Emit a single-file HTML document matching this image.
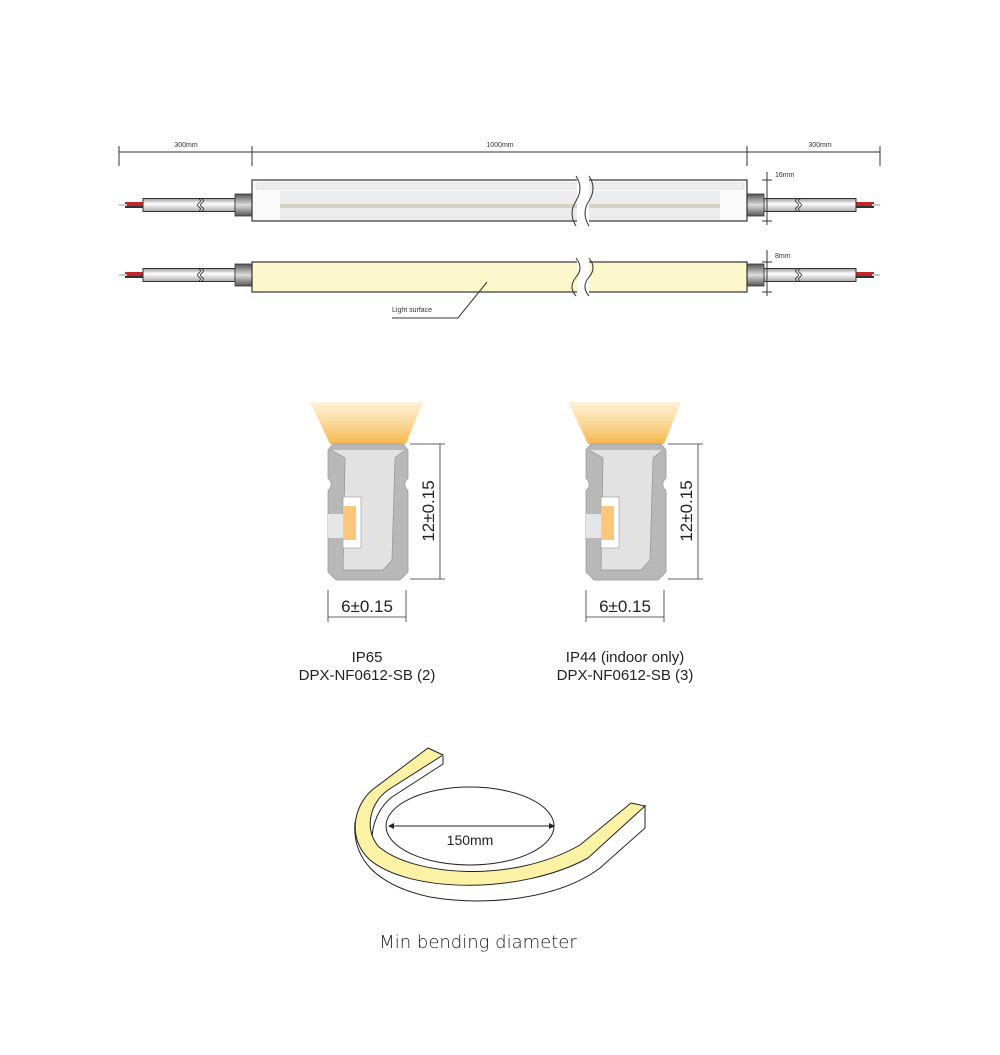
<!DOCTYPE html>
<html><head><meta charset="utf-8"><style>body{margin:0;background:#fff}svg{display:block}</style></head><body>
<svg width="1000" height="1055" viewBox="0 0 1000 1055" xmlns="http://www.w3.org/2000/svg" font-family="Liberation Sans, sans-serif">
<defs>
<linearGradient id="cab" x1="0" y1="0" x2="0" y2="1"><stop offset="0" stop-color="#999"/><stop offset="0.4" stop-color="#fff"/><stop offset="1" stop-color="#aaa"/></linearGradient>
<linearGradient id="con" x1="0" y1="0" x2="0" y2="1"><stop offset="0" stop-color="#555"/><stop offset="0.5" stop-color="#ddd"/><stop offset="1" stop-color="#555"/></linearGradient>
<linearGradient id="glow" x1="0" y1="0" x2="0" y2="1"><stop offset="0" stop-color="#fde7b8" stop-opacity="0.6"/><stop offset="1" stop-color="#f7b64a"/></linearGradient>
<g id="lcab">
<rect x="125" y="-3" width="20" height="6" fill="#c0262a"/><rect x="125" y="1" width="20" height="2" fill="#333"/>
<rect x="119" y="-1" width="8" height="2" fill="#ccc"/>
<rect x="143" y="-6.5" width="92" height="13" fill="url(#cab)" stroke="#333" stroke-width="1"/>
<path d="M199 -6 q3 2 0 4 q-3 2 0 4 q3 2 0 4 M202 -6 q3 2 0 4 q-3 2 0 4 q3 2 0 4" stroke="#333" fill="none" stroke-width="0.8"/>
<rect x="235" y="-11" width="17" height="22" fill="url(#con)" stroke="#333" stroke-width="0.8"/>
</g>
</defs>
<g stroke="#333" stroke-width="1" fill="none">
<line x1="119" y1="152" x2="880" y2="152"/>
<line x1="119" y1="146" x2="119" y2="166"/><line x1="252" y1="146" x2="252" y2="166"/><line x1="747" y1="146" x2="747" y2="166"/><line x1="880" y1="146" x2="880" y2="166"/>
</g>
<g font-size="7" fill="#333" text-anchor="middle"><text x="186" y="147">300mm</text><text x="500" y="147">1000mm</text><text x="820" y="147">300mm</text></g>
<use href="#lcab" transform="translate(0,205)"/>
<use href="#lcab" transform="translate(999,205) scale(-1,1)"/>
<rect x="252" y="180" width="495" height="41" fill="#fafafa" stroke="#333" stroke-width="1.2"/>
<rect x="256" y="183" width="488" height="6" fill="#eee" stroke="#ccc" stroke-width="0.5"/>
<rect x="280" y="191" width="440" height="29" fill="#ececec"/>
<rect x="280" y="204" width="440" height="4" fill="#d6d2c8"/>
<use href="#lcab" transform="translate(0,275)"/>
<use href="#lcab" transform="translate(999,275) scale(-1,1)"/>
<rect x="252" y="262" width="495" height="30" fill="#fdf8cc" stroke="#333" stroke-width="1.2"/>
<rect x="577" y="176" width="12" height="50" fill="#fff"/><rect x="577" y="258" width="12" height="38" fill="#fff"/>
<g stroke="#333" fill="none" stroke-width="1">
<path d="M576 176 q8 12 0 25 q-8 12 0 25 M589 176 q8 12 0 25 q-8 12 0 25"/>
<path d="M576 258 q8 10 0 19 q-8 10 0 19 M589 258 q8 10 0 19 q-8 10 0 19"/>
<line x1="767" y1="172" x2="767" y2="225"/><line x1="762" y1="180" x2="772" y2="180"/><line x1="762" y1="221" x2="772" y2="221"/>
<line x1="767" y1="250" x2="767" y2="296"/><line x1="762" y1="262" x2="772" y2="262"/><line x1="762" y1="292" x2="772" y2="292"/>
<path d="M392 318 H458 L487 282"/>
</g>
<g font-size="7" fill="#333"><text x="775" y="177">16mm</text><text x="775" y="258">8mm</text><text x="392" y="312">Light surface</text></g>
<g id="sec">
<path d="M310 402 H423 L406 444 H330 Z" fill="url(#glow)"/>
<path d="M333 444 H403 L408 450 V478 L405 482 V487 L408 491 V572 L400 580 H336 L328 572 V510 L328 491 L331 487 V482 L328 478 V450 Z" fill="#b8b8b8" stroke="#999" stroke-width="0.8"/>
<path d="M331 450 L345 458 L343 570 L383 570 L392 560 L395 458 L405 450" fill="#e2e2e2" stroke="#999" stroke-width="0.8"/>
<rect x="343" y="497" width="18" height="51" fill="#fff" stroke="#999" stroke-width="0.6"/>
<rect x="343" y="506" width="13" height="34" fill="#fcc77a"/>
<rect x="328" y="514" width="15" height="24" fill="#e6e6e6"/>
<g stroke="#333" stroke-width="0.8" fill="none">
<line x1="410" y1="444" x2="445" y2="444"/><line x1="410" y1="579" x2="445" y2="579"/><line x1="440" y1="444" x2="440" y2="579"/>
<line x1="328" y1="590" x2="328" y2="622"/><line x1="406" y1="590" x2="406" y2="622"/><line x1="328" y1="617" x2="406" y2="617"/>
</g>
<text x="367" y="612" font-size="17" text-anchor="middle" fill="#222">6±0.15</text>
<text transform="translate(434,511) rotate(-90)" font-size="17" text-anchor="middle" fill="#222">12±0.15</text>
</g>
<use href="#sec" transform="translate(258,0)"/>
<g font-size="15" text-anchor="middle" fill="#222">
<text x="367" y="662">IP65</text><text x="367" y="680">DPX-NF0612-SB (2)</text>
<text x="625" y="662">IP44 (indoor only)</text><text x="625" y="680">DPX-NF0612-SB (3)</text>
</g>
<!-- bend -->
<g stroke="#222" stroke-width="1" fill="none">
<ellipse cx="470" cy="826" rx="84" ry="39"/>
<path d="M355 822 C352 858 375 885 430 897 C490 907 560 898 600 868 L645 828 V805"/>
<path d="M443 756 V764 L392 797 C378 808 372 825 372 840"/>
</g>
<path d="M428 748 L443 755 L388 790 C370 803 364 828 378 846 C410 875 510 885 580 845 L631 803 L645 806 L588 858 C520 895 410 893 370 860 C348 840 352 808 372 790 Z" fill="#fbf2a6" stroke="#222" stroke-width="1"/>
<line x1="390" y1="826" x2="553" y2="826" stroke="#222"/>
<path d="M388 826 l6 -3 v6 z M555 826 l-6 -3 v6 z" fill="#222"/>
<text x="470" y="845" font-size="14" text-anchor="middle" fill="#222">150mm</text>
<text x="478" y="948" font-size="18" text-anchor="middle" fill="#222" font-family="DejaVu Sans, sans-serif" font-weight="300">Min bending diameter</text>
</svg>
</body></html>
